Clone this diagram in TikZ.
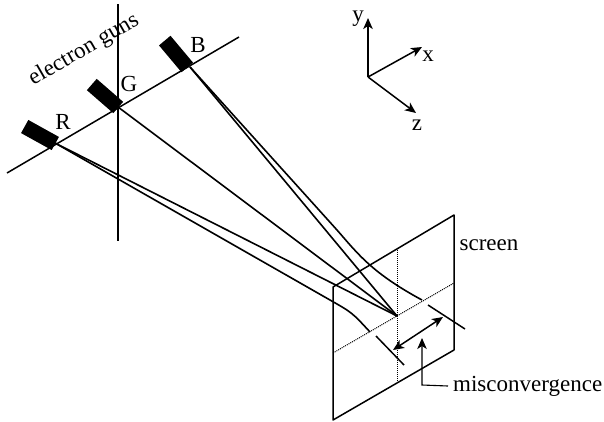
\documentclass[tikz,border=0pt]{standalone}
\usepackage{fontspec}
\setmainfont{Liberation Serif}
\usetikzlibrary{arrows.meta}
\begin{document}
\begin{tikzpicture}[
        x=1pt, y=-1pt,
        >={Stealth[length=11pt,width=9.5pt,inset=3pt]},
        line/.style={draw, line width=1.5pt},
        beam/.style={draw, line width=1.6pt},
        guide/.style={draw, line width=1pt, densely dotted},
        gun/.style={draw=none, fill=black, rectangle, minimum width=35pt, minimum height=15pt, inner sep=0pt},
        lbl/.style={font=\fontsize{23}{25}\selectfont, inner sep=0pt},
    ]
    \useasboundingbox (0,0) rectangle (604,421);
    % guns
    \coordinate (r) at (55,143);
    \coordinate (g) at (118,107);
    \coordinate (b) at (190,67);
    \coordinate (c) at (397,316);
    \coordinate (railL) at (7,173);
    \coordinate (railR) at (239,37);
    \coordinate (axisT) at (118,4);
    \coordinate (axisB) at (118,241);
    \draw[line] (railL) -- (railR);
    \draw[line] (axisT) -- (axisB);
    \node[gun, rotate=-29] (gunr) at (40,135) {};
    \node[gun, rotate=-41] (gung) at (105,96) {};
    \node[gun, rotate=-50] (gunb) at (176,54) {};
    \node[lbl] (rl) at (63,122) {R};
    \node[lbl] (gl) at (129,84) {G};
    \node[lbl] (bl) at (198,45) {B};
    \node[lbl, rotate=30] (gunsl) at (84,50) {electron guns};
    % screen
    \coordinate (s1) at (333,287);
    \coordinate (s2) at (454,215);
    \coordinate (s3) at (454,350);
    \coordinate (s4) at (333,420);
    \coordinate (h1) at (333,353);
    \coordinate (h2) at (454,283);
    \coordinate (v1) at (397,250);
    \coordinate (v2) at (397,383);
    \draw[line, line join=round] (s1) -- (s2) -- (s3) -- (s4) -- cycle;
    \draw[guide] (h1) -- (h2);
    \draw[guide] (v1) -- (v2);
    % beams
    \coordinate (rbend) at (330,300);
    \coordinate (rhit) at (370,332);
    \coordinate (bbend) at (337,230);
    \coordinate (bhit) at (422,300);
    \draw[beam] (r) -- (c);
    \draw[beam] (g) -- (c);
    \draw[beam] (b) -- (c);
    \draw[beam] (r) -- (rbend) .. controls (352,312.5) .. (rhit);
    \draw[beam] (b) -- (bbend) .. controls (358,254) and (372,273) .. (bhit);
    % misconvergence
    \coordinate (m1) at (428,305);
    \coordinate (m2) at (465,329);
    \coordinate (m3) at (376,336);
    \coordinate (m4) at (404,365);
    \coordinate (a1) at (443,317);
    \coordinate (a2) at (393,350);
    \draw[line] (m1) -- (m2);
    \draw[line] (m3) -- (m4);
    \draw[line, <->] (a2) -- (a1);
    \node[lbl, anchor=west] (missl) at (453,386) {misconvergence};
    \coordinate (tip) at (422,338);
    \draw[line, line width=1.1pt, ->] (missl.west) ++(-5,0) -- (422,385) -- (tip);
    \node[lbl] (screenl) at (489,245) {screen};
    % axes
    \coordinate (o) at (368,77);
    \coordinate (yt) at (368,18);
    \coordinate (xt) at (422,47);
    \coordinate (zt) at (416,113);
    \draw[line, ->] (o) -- (yt);
    \draw[line, ->] (o) -- (xt);
    \draw[line, ->] (o) -- (zt);
    \node[lbl] (yl) at (358,19) {y};
    \node[lbl] (xl) at (428,56) {x};
    \node[lbl] (zl) at (417,125) {z};
\end{tikzpicture}
\end{document}
